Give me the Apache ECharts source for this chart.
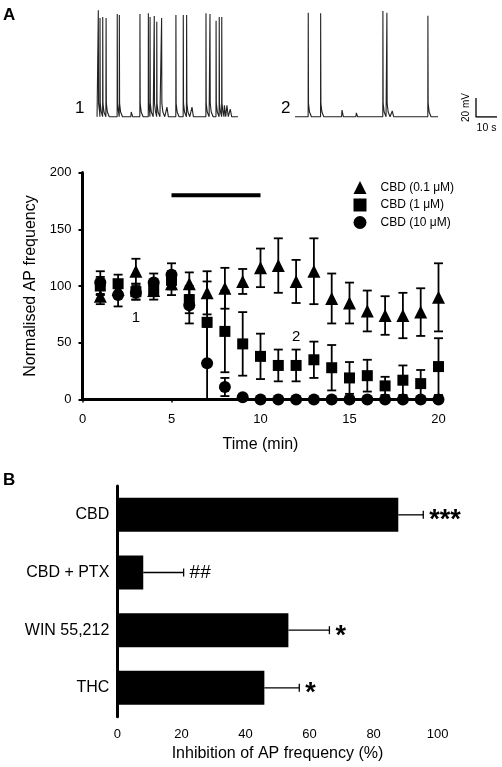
<!DOCTYPE html>
<html><head><meta charset="utf-8">
<script src="https://cdn.jsdelivr.net/npm/echarts@6/dist/echarts.min.js"></script>
<style>html,body{margin:0;padding:0;background:#fff}#c{width:502px;height:767px}</style>
</head><body><div id="c"></div>
<script>
// ---------- Panel A: example traces (seconds, mV relative to baseline) ----------
const trace1SpikeTimes = [1.1, 1.9, 3.2, 4.8, 10.1, 11.1, 20.9, 24.9, 25.7, 27.7, 28.9, 31.2, 38.0, 41.5, 43.1, 52.3, 54.2, 57.1, 58.6, 59.8];
const trace1SpikePeaks = [112, 104, 105, 104, 108, 107, 108, 109, 105, 106, 100, 104, 107, 107, 107, 109, 108, 101, 105, 105];
const trace1SmallTimes = [16.6, 33.6, 45.5, 60.9, 62.1, 63.7];
const trace1SmallAmps  = [5, 10, 10, 12, 12, 8];
const trace2SpikeTimes = [6.3, 12.2, 41.8, 43.7, 63.2];
const trace2SpikePeaks = [109.5, 108.8, 111.3, 109.5, 106.3];
const trace2SmallTimes = [22.2, 29.0, 46.1];
const trace2SmallAmps  = [7, 4, 6];
const trace1Start = 0.5, trace1End = 67.5, trace2Start = 0, trace2End = 68;
const scaleBar = [[0, 20], [0, 0], [10, 0]];

// ---------- Panel A: time course ----------
const minutes = [1,2,3,4,5,6,7,8,9,10,11,12,13,14,15,16,17,18,19,20];
const cbd01 = [91, 97, 113, 96, 102, 102, 94, 98, 104, 116, 118, 104, 113, 89, 85, 78, 74, 74, 77, 90];
const cbd01Sem = [7, 6, 11, 8, 10, 10, 19, 18, 11, 17, 24, 19, 29, 22, 18, 18, 17, 20, 21, 30];
const cbd1 = [100, 102, 95, 97, 105, 88, 68, 60, 49, 38, 30, 30, 35, 28, 19, 21, 12, 17, 14, 29];
const cbd1Sem = [8, 8, 7, 6, 8, 12, 36, 36, 28, 20, 14, 14, 16, 20, 14, 14, 8, 13, 12, 25];
const cbd10 = [103, 92, 94, 103, 110, 83, 32, 11, 2, 0, 0, 0, 0, 0, 0, 0, 0, 0, 0, 0];
const cbd10Sem = [10, 10, 6, 8, 10, 16, 32, 8, 1, 0, 0, 0, 0, 0, 0, 0, 0, 0, 0, 0];
const drugBar = [[5, 180], [10, 180]];
const seriesNames = ['CBD (0.1 μM)', 'CBD (1 μM)', 'CBD (10 μM)'];
const pointLabels = [[3, 72, '1'], [12, 55, '2']];

// ---------- Panel B ----------
const barCats = ['CBD', 'CBD + PTX', 'WIN 55,212', 'THC'];
const barVals = [87.7, 8.1, 53.4, 45.9];
const barSem = [7.8, 12.6, 12.8, 10.9];
const barSig = ['***', '##', '*', '*'];

const FONT = 'Liberation Sans, Arial, Helvetica, sans-serif';

function buildTrace(start, end, spT, spA, evT, evA) {
  const ev = [];
  spT.forEach((t, i) => ev.push({ t, a: spA[i], s: true }));
  evT.forEach((t, i) => ev.push({ t, a: evA[i], s: false }));
  ev.sort((p, q) => p.t - q.t);
  const pts = [[start, 0]];
  ev.forEach((e, i) => {
    const next = i + 1 < ev.length ? ev[i + 1].t : Infinity;
    const shape = e.s ? [[-0.05, 0], [0, e.a], [0.12, 14], [0.6, 5], [1.5, 0]]
                      : [[-0.05, 0], [0.15, e.a], [0.8, 0]];
    shape.forEach(([dt, v]) => {
      const tt = e.t + dt;
      if (dt <= 0 || tt < next - 0.05) pts.push([tt, v]);
    });
  });
  pts.push([end, 0]);
  return pts;
}

function zip3(a, b, c) { return a.map((x, i) => [x, b[i], c[i]]); }

function errV(params, api) {
  const x = api.value(0), v = api.value(1), e = api.value(2);
  if (!e) return null;
  const top = api.coord([x, v + e]);
  const bot = api.coord([x, Math.max(0, v - e)]);
  const hw = 4.5, st = { stroke: '#000', lineWidth: 1.8 };
  const ch = [
    { type: 'line', shape: { x1: top[0], y1: top[1], x2: bot[0], y2: bot[1] }, style: st },
    { type: 'line', shape: { x1: top[0] - hw, y1: top[1], x2: top[0] + hw, y2: top[1] }, style: st }
  ];
  if (v - e > 0) ch.push({ type: 'line', shape: { x1: bot[0] - hw, y1: bot[1], x2: bot[0] + hw, y2: bot[1] }, style: st });
  return { type: 'group', children: ch };
}

function errH(params, api) {
  const v = api.value(0), c = api.value(1), e = api.value(2);
  const s = api.coord([v, c]), t = api.coord([v + e, c]);
  const st = { stroke: '#000', lineWidth: 1.3 };
  const lab = barSig[params.dataIndex];
  const isStar = lab.indexOf('*') >= 0;
  return { type: 'group', children: [
    { type: 'line', shape: { x1: s[0], y1: s[1], x2: t[0], y2: t[1] }, style: st },
    { type: 'line', shape: { x1: t[0], y1: t[1] - 4, x2: t[0], y2: t[1] + 4 }, style: st },
    { type: 'text', style: { text: lab, x: t[0] + 6, y: t[1] + (isStar ? 6 : 0),
        font: isStar ? 'bold 27px ' + FONT : '19px ' + FONT, fill: '#000', verticalAlign: 'middle', align: 'left' } }
  ] };
}

const hiddenAxis = (gi, min, max) => ({ gridIndex: gi, type: 'value', min, max, show: false });

const chart = echarts.init(document.getElementById('c'), null, { renderer: 'canvas' });
chart.setOption({
  animation: false,
  backgroundColor: '#fff',
  textStyle: { fontFamily: FONT },
  grid: [
    { left: 96, top: 7.45, width: 143, height: 114 },
    { left: 295, top: 7.45, width: 143, height: 114 },
    { left: 476, top: 98, width: 21, height: 19 },
    { left: 82.5, top: 172.5, width: 356, height: 227 },
    { left: 117.3, top: 486, width: 320.4, height: 230.7 }
  ],
  xAxis: [
    hiddenAxis(0, 0, 68),
    hiddenAxis(1, 0, 68),
    { gridIndex: 2, type: 'value', min: 0, max: 10, axisLine: { show: false }, axisTick: { show: false }, axisLabel: { show: false }, splitLine: { show: false },
      name: '10 s', nameLocation: 'middle', nameGap: 6, nameTextStyle: { fontSize: 10.5, color: '#000', fontFamily: FONT } },
    { gridIndex: 3, type: 'value', min: 0, max: 20, interval: 5,
      axisLine: { lineStyle: { color: '#000', width: 3 } }, axisTick: { length: 3, lineStyle: { color: '#000', width: 1.5 } },
      axisLabel: { margin: 13, fontSize: 13, color: '#000', fontFamily: FONT }, splitLine: { show: false },
      name: 'Time (min)', nameLocation: 'middle', nameGap: 37, nameTextStyle: { fontSize: 16, color: '#000', fontFamily: FONT } },
    { gridIndex: 4, type: 'value', min: 0, max: 100, interval: 20,
      axisLine: { lineStyle: { color: '#000', width: 3 } }, axisTick: { length: 4, lineStyle: { color: '#000', width: 1.5 } },
      axisLabel: { margin: 11, fontSize: 13, color: '#000', fontFamily: FONT }, splitLine: { show: false },
      name: 'Inhibition of AP frequency (%)', nameLocation: 'middle', nameGap: 29, nameTextStyle: { fontSize: 16, color: '#000', fontFamily: FONT } }
  ],
  yAxis: [
    hiddenAxis(0, -5, 115),
    hiddenAxis(1, -5, 115),
    { gridIndex: 2, type: 'value', min: 0, max: 20, axisLine: { show: false }, axisTick: { show: false }, axisLabel: { show: false }, splitLine: { show: false },
      name: '20 mV', nameLocation: 'middle', nameGap: 5, nameRotate: 90, nameTextStyle: { fontSize: 10, color: '#000', fontFamily: FONT } },
    { gridIndex: 3, type: 'value', min: 0, max: 200, interval: 50,
      axisLine: { lineStyle: { color: '#000', width: 3 } }, axisTick: { length: 4, lineStyle: { color: '#000', width: 2 } },
      axisLabel: { margin: 11, fontSize: 13, color: '#000', fontFamily: FONT }, splitLine: { show: false },
      name: 'Normalised AP frequency', nameLocation: 'middle', nameGap: 43, nameTextStyle: { fontSize: 16, color: '#000', fontFamily: FONT } },
    { gridIndex: 4, type: 'category', data: barCats, inverse: true,
      axisLine: { lineStyle: { color: '#000', width: 3 } }, axisTick: { show: false },
      axisLabel: { margin: 8, fontSize: 16, color: '#000', fontFamily: FONT } }
  ],
  legend: {
    orient: 'vertical', left: 348.5, top: 176, itemWidth: 13, itemHeight: 13, itemGap: 4.5,
    textStyle: { fontSize: 12, color: '#000', fontFamily: FONT, padding: [0, 0, 0, 9] },
    data: seriesNames
  },
  graphic: [
    { type: 'text', left: 3, top: 7, style: { text: 'A', font: 'bold 17px ' + FONT, fill: '#000' } },
    { type: 'text', left: 3, top: 472, style: { text: 'B', font: 'bold 17px ' + FONT, fill: '#000' } },
    { type: 'text', left: 75, top: 100, style: { text: '1', font: '17px ' + FONT, fill: '#000' } },
    { type: 'text', left: 281, top: 100, style: { text: '2', font: '17px ' + FONT, fill: '#000' } }
  ],
  series: [
    { type: 'line', xAxisIndex: 0, yAxisIndex: 0, symbol: 'none', lineStyle: { color: '#222', width: 1.1 },
      data: buildTrace(trace1Start, trace1End, trace1SpikeTimes, trace1SpikePeaks, trace1SmallTimes, trace1SmallAmps) },
    { type: 'line', xAxisIndex: 1, yAxisIndex: 1, symbol: 'none', lineStyle: { color: '#222', width: 1.1 },
      data: buildTrace(trace2Start, trace2End, trace2SpikeTimes, trace2SpikePeaks, trace2SmallTimes, trace2SmallAmps) },
    { type: 'line', xAxisIndex: 2, yAxisIndex: 2, symbol: 'none', lineStyle: { color: '#000', width: 1.3 }, data: scaleBar },
    // drug application bar
    { type: 'line', xAxisIndex: 3, yAxisIndex: 3, symbol: 'none', lineStyle: { color: '#000', width: 4, cap: 'butt' }, data: drugBar },
    // error bars
    { type: 'custom', xAxisIndex: 3, yAxisIndex: 3, renderItem: errV, clip: false, data: zip3(minutes, cbd01, cbd01Sem), z: 2 },
    { type: 'custom', xAxisIndex: 3, yAxisIndex: 3, renderItem: errV, clip: false, data: zip3(minutes, cbd1, cbd1Sem), z: 2 },
    { type: 'custom', xAxisIndex: 3, yAxisIndex: 3, renderItem: errV, clip: false, data: zip3(minutes, cbd10, cbd10Sem), z: 2 },
    { name: seriesNames[0], type: 'scatter', xAxisIndex: 3, yAxisIndex: 3, symbol: 'triangle', symbolSize: 13, clip: false, z: 3,
      itemStyle: { color: '#000', opacity: 1 }, data: minutes.map((m, i) => [m, cbd01[i]]) },
    { name: seriesNames[1], type: 'scatter', xAxisIndex: 3, yAxisIndex: 3, symbol: 'rect', symbolSize: 11, clip: false, z: 4,
      itemStyle: { color: '#000', opacity: 1 }, data: minutes.map((m, i) => [m, cbd1[i]]) },
    { name: seriesNames[2], type: 'scatter', xAxisIndex: 3, yAxisIndex: 3, symbol: 'circle', symbolSize: 12, clip: false, z: 5,
      itemStyle: { color: '#000', opacity: 1 }, data: minutes.map((m, i) => [m, cbd10[i]]) },
    // labels "1" and "2" on the time course
    { type: 'scatter', xAxisIndex: 3, yAxisIndex: 3, symbolSize: 0, silent: true, itemStyle: { opacity: 1 },
      label: { show: true, formatter: p => p.data[2], fontSize: 15, color: '#000', fontFamily: FONT, position: 'inside' },
      data: pointLabels },
    // Panel B
    { type: 'bar', xAxisIndex: 4, yAxisIndex: 4, barWidth: 34, itemStyle: { color: '#000' }, data: barVals },
    { type: 'custom', xAxisIndex: 4, yAxisIndex: 4, renderItem: errH, clip: false, z: 3,
      data: barVals.map((v, i) => [v, i, barSem[i]]) }
  ]
});
</script></body></html>
